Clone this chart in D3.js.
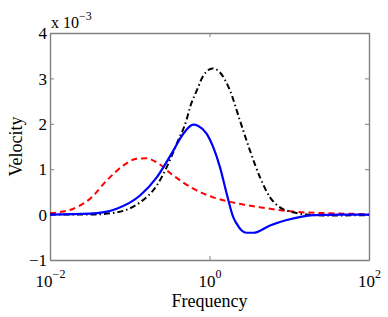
<!DOCTYPE html>
<html>
<head>
<meta charset="utf-8">
<script src="https://cdn.jsdelivr.net/npm/d3@7"></script>
<style>
  body { margin: 0; background: #fff; }
  svg { display: block; }
</style>
</head>
<body>
<svg width="388" height="317"></svg>
<script>
// data (velocity in units of 1e-3)
const freqBlue = [0.01, 0.0318, 0.0686, 0.1345, 0.218, 0.352, 0.469, 0.626, 0.724, 0.923, 1.117, 1.355, 1.643, 1.99, 2.19, 2.53, 2.93, 3.54, 5.74, 9.29, 20.0, 43.3, 100];
const velBlue = [0, 0.02, 0.13, 0.42, 0.82, 1.41, 1.78, 1.98, 1.95, 1.78, 1.48, 1.04, 0.46, -0.06, -0.2, -0.35, -0.4, -0.4, -0.24, -0.12, -0.01, 0, 0];

const freqRed = [0.01, 0.0196, 0.0318, 0.0514, 0.083, 0.122, 0.163, 0.218, 0.352, 0.626, 1.117, 1.81, 4.73, 12.4, 32.4, 100];
const velRed = [0.03, 0.13, 0.35, 0.75, 1.08, 1.23, 1.24, 1.15, 0.86, 0.57, 0.38, 0.28, 0.15, 0.06, 0.03, 0.01];

const freqBlack = [0.01, 0.0318, 0.0686, 0.1345, 0.218, 0.29, 0.388, 0.518, 0.569, 0.691, 0.836, 1.096, 1.355, 1.81, 2.41, 3.22, 4.3, 5.74, 7.66, 11.2, 16.6, 32.4, 100];
const velBlack = [0, 0, 0.05, 0.27, 0.64, 1.04, 1.56, 2.1, 2.36, 2.73, 3.06, 3.22, 3.13, 2.73, 2.07, 1.41, 0.82, 0.38, 0.16, 0.05, 0, -0.02, -0.01];

const xTicks = [0.01, 1, 100];
const xTickExp = ["−2", "0", "2"];
const yTicks = [-1, 0, 1, 2, 3, 4];

const FONT = "'Liberation Serif', 'Times New Roman', 'DejaVu Serif', serif";

const svg = d3.select("svg").attr("font-family", FONT);
const margin = { left: 50, right: 19, top: 33, bottom: 57 };
const width = 388, height = 317;

const x = d3.scaleLog().domain([0.01, 100]).range([margin.left, width - margin.right]);
const y = d3.scaleLinear().domain([-1, 4]).range([height - margin.bottom, margin.top]);

const axisColor = "#808080";

function styleAxis(g) {
  g.attr("font-family", FONT);
  g.select(".domain").attr("stroke", axisColor).attr("stroke-width", 1.4);
  g.selectAll(".tick line").attr("stroke", axisColor).attr("stroke-width", 1);
}

// bottom axis
const gx = svg.append("g")
  .attr("transform", `translate(0,${y(-1)})`)
  .call(d3.axisBottom(x).tickValues(xTicks).tickSizeInner(-4).tickSizeOuter(0).tickFormat(""))
  .call(styleAxis);

gx.selectAll(".tick").each(function (d, i) {
  const t = d3.select(this).append("text")
    .attr("y", 27)
    .attr("text-anchor", "middle")
    .attr("fill", "#000")
    .attr("font-family", FONT)
    .attr("font-size", 17);
  t.append("tspan").text("10");
  t.append("tspan").attr("font-size", 12).attr("dy", -9).text(xTickExp[i]);
});

// top axis
svg.append("g")
  .attr("transform", `translate(0,${y(4)})`)
  .call(d3.axisTop(x).tickValues(xTicks).tickSizeInner(-4).tickSizeOuter(0).tickFormat(""))
  .call(styleAxis);

// left axis
const gy = svg.append("g")
  .attr("transform", `translate(${x(0.01)},0)`)
  .call(d3.axisLeft(y).tickValues(yTicks).tickSizeInner(-4).tickSizeOuter(0).tickFormat(""))
  .call(styleAxis);

gy.selectAll(".tick").append("text")
  .attr("x", -3)
  .attr("dy", "0.33em")
  .attr("text-anchor", "end")
  .attr("fill", "#000")
  .attr("font-family", FONT)
  .attr("font-size", 17)
  .text(d => d < 0 ? "−" + Math.abs(d) : d);

// right axis
svg.append("g")
  .attr("transform", `translate(${x(100)},0)`)
  .call(d3.axisRight(y).tickValues(yTicks).tickSizeInner(-4).tickSizeOuter(0).tickFormat(""))
  .call(styleAxis);

// exponent label
const ex = svg.append("text")
  .attr("x", margin.left + 1)
  .attr("y", 28)
  .attr("font-size", 16);
ex.append("tspan").text("x 10");
ex.append("tspan").attr("font-size", 12).attr("dy", -8).text("−3");

// axis titles
svg.append("text")
  .attr("x", x(1))
  .attr("y", 307)
  .attr("text-anchor", "middle")
  .attr("font-size", 18)
  .text("Frequency");

svg.append("text")
  .attr("transform", `translate(22,${y(1.5)}) rotate(-90)`)
  .attr("text-anchor", "middle")
  .attr("font-size", 18)
  .text("Velocity");

// lines
const line = d3.line()
  .x(d => x(d[0]))
  .y(d => y(d[1]))
  .curve(d3.curveMonotoneX);

const plot = svg.append("g");

plot.append("path")
  .datum(d3.zip(freqRed, velRed))
  .attr("fill", "none")
  .attr("stroke", "#ff0000")
  .attr("stroke-width", 2)
  .attr("stroke-dasharray", "6,4")
  .attr("d", line);

plot.append("path")
  .datum(d3.zip(freqBlack, velBlack))
  .attr("fill", "none")
  .attr("stroke", "#000000")
  .attr("stroke-width", 2)
  .attr("stroke-dasharray", "6,3,1.5,3")
  .attr("d", line);

plot.append("path")
  .datum(d3.zip(freqBlue, velBlue))
  .attr("fill", "none")
  .attr("stroke", "#0000ff")
  .attr("stroke-width", 2.2)
  .attr("d", line);
</script>
</body>
</html>
